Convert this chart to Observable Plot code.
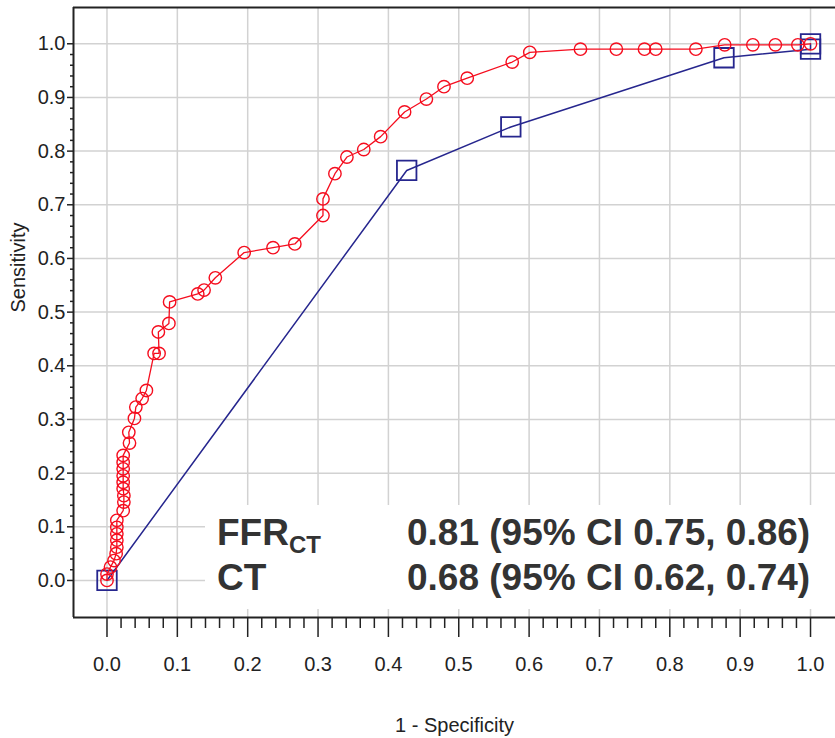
<!DOCTYPE html>
<html>
<head>
<meta charset="utf-8">
<script src="https://cdn.jsdelivr.net/npm/d3@7"></script>
<script src="https://cdn.jsdelivr.net/npm/@observablehq/plot@0.6"></script>
<style>
  html, body { margin: 0; padding: 0; background: #fff; }
  #chart { width: 835px; height: 738px; overflow: hidden; }
</style>
</head>
<body>
<div id="chart"></div>
<script>
// ROC curve for FFR-CT (red circles)
const ffrSpec = [0, 0, 0.005, 0.010, 0.013, 0.014, 0.014, 0.014, 0.014, 0.014,
  0.023, 0.024, 0.024, 0.023, 0.023, 0.023, 0.023, 0.023, 0.023,
  0.032, 0.031, 0.039, 0.041, 0.050, 0.056, 0.067, 0.074, 0.073, 0.088, 0.089,
  0.129, 0.138, 0.154, 0.195, 0.236, 0.267, 0.307, 0.307, 0.324, 0.341, 0.365,
  0.389, 0.423, 0.454, 0.479, 0.512, 0.576, 0.601, 0.673, 0.724, 0.764, 0.780,
  0.837, 0.878, 0.918, 0.950, 0.982, 1.0];
const ffrSens = [0, 0.012, 0.025, 0.037, 0.050, 0.062, 0.075, 0.087, 0.099, 0.112,
  0.130, 0.146, 0.158, 0.171, 0.183, 0.195, 0.208, 0.220, 0.233,
  0.256, 0.276, 0.302, 0.323, 0.339, 0.354, 0.423, 0.423, 0.463, 0.479, 0.519,
  0.534, 0.541, 0.564, 0.611, 0.620, 0.627, 0.680, 0.711, 0.758, 0.789, 0.803,
  0.827, 0.873, 0.897, 0.920, 0.936, 0.966, 0.984, 0.990, 0.990, 0.990, 0.990,
  0.990, 0.998, 0.998, 0.998, 0.998, 1.0];

// ROC curve for CT (blue squares)
const ctSpec = [0, 0.426, 0.574, 0.877, 1.0, 1.0];
const ctSens = [0, 0.764, 0.845, 0.974, 0.990, 1.0];

const majorTicks = [0, 0.1, 0.2, 0.3, 0.4, 0.5, 0.6, 0.7, 0.8, 0.9, 1.0];
const minorTicks = d3.range(0, 51).map(i => +(i * 0.02).toFixed(2)).filter(v => Math.abs(v * 10 - Math.round(v * 10)) > 1e-6);

const legendRows = [
  {name: "FFR", sub: "CT", auc: "0.81 (95% CI 0.75, 0.86)"},
  {name: "CT", sub: "", auc: "0.68 (95% CI 0.62, 0.74)"}
];

const xLabel = "1 - Specificity";
const yLabel = "Sensitivity";

const ffr = ffrSpec.map((x, i) => ({x, y: ffrSens[i]}));
const ct = ctSpec.map((x, i) => ({x, y: ctSens[i]}));

const xDomain = [-0.0476, 1.0355];
const yDomain = [-0.069, 1.0676];

const RED = "#f50d1e";
const BLUE = "#26268e";
const INK = "#222";
const FONT = "Liberation Sans, Arial, sans-serif";

// Annotation box (white background with AUC values)
function aucBox(index, scales, values, dims) {
  const g = d3.create("svg:g");
  const left = 205, top = 505;
  g.append("rect").attr("x", left).attr("y", top)
    .attr("width", dims.width - left).attr("height", 104).attr("fill", "#fff");
  const baselines = [545, 590];
  legendRows.forEach((r, i) => {
    const t = g.append("text")
      .attr("x", 217).attr("y", baselines[i])
      .attr("text-anchor", "start")
      .attr("font-family", FONT)
      .attr("font-weight", "bold").attr("font-size", 37).attr("fill", "#333");
    t.append("tspan").text(r.name);
    if (r.sub) t.append("tspan").attr("font-size", 24).attr("dy", 8).text(r.sub);
    g.append("text")
      .attr("x", 407).attr("y", baselines[i])
      .attr("text-anchor", "start")
      .attr("font-family", FONT)
      .attr("font-weight", "bold").attr("font-size", 37).attr("fill", "#333")
      .text(r.auc);
  });
  return g.node();
}

const chart = Plot.plot({
  width: 835,
  height: 738,
  marginLeft: 73,
  marginRight: 0,
  marginTop: 7,
  marginBottom: 121,
  style: {fontFamily: FONT, fontSize: "20px", color: INK, background: "#fff"},
  x: {domain: xDomain, axis: null},
  y: {domain: yDomain, axis: null},
  marks: [
    Plot.gridX(majorTicks, {stroke: "#d2d2d2", strokeOpacity: 1, strokeWidth: 1.5}),
    Plot.gridY(majorTicks, {stroke: "#d2d2d2", strokeOpacity: 1, strokeWidth: 1.5}),
    aucBox,
    Plot.axisX(minorTicks, {anchor: "bottom", label: null, tickSize: 11, text: null, stroke: INK, strokeWidth: 1.5}),
    Plot.axisX(majorTicks, {anchor: "bottom", label: null, tickSize: 20, tickPadding: 19, stroke: INK, strokeWidth: 1.5, tickFormat: d3.format(".1f"), fill: INK, fontSize: 20}),
    Plot.axisY(minorTicks, {anchor: "left", label: null, tickSize: 3, text: null, stroke: INK, strokeWidth: 1.5}),
    Plot.axisY(majorTicks, {anchor: "left", label: null, tickSize: 6, tickPadding: 2, stroke: INK, strokeWidth: 1.5, tickFormat: d3.format(".1f"), fill: INK, fontSize: 20}),
    Plot.ruleX([xDomain[0]], {stroke: INK, strokeWidth: 2}),
    Plot.ruleY([yDomain[0], yDomain[1]], {stroke: INK, strokeWidth: 2}),
    Plot.line(ct, {x: "x", y: "y", stroke: BLUE, strokeWidth: 1.5}),
    Plot.dot(ct, {x: "x", y: "y", symbol: "square", r: 11, stroke: BLUE, strokeWidth: 1.8, fill: "none"}),
    Plot.line(ffr, {x: "x", y: "y", stroke: RED, strokeWidth: 1.3}),
    Plot.dot(ffr, {x: "x", y: "y", r: 6.2, stroke: RED, strokeWidth: 1.4, fill: "none"}),
    Plot.text([yLabel], {frameAnchor: "left", dx: -55, rotate: -90, fontSize: 20, fill: INK}),
    Plot.text([xLabel], {frameAnchor: "bottom", dy: 114, fontSize: 20, fill: INK})
  ]
});

document.getElementById("chart").appendChild(chart);
</script>
</body>
</html>
